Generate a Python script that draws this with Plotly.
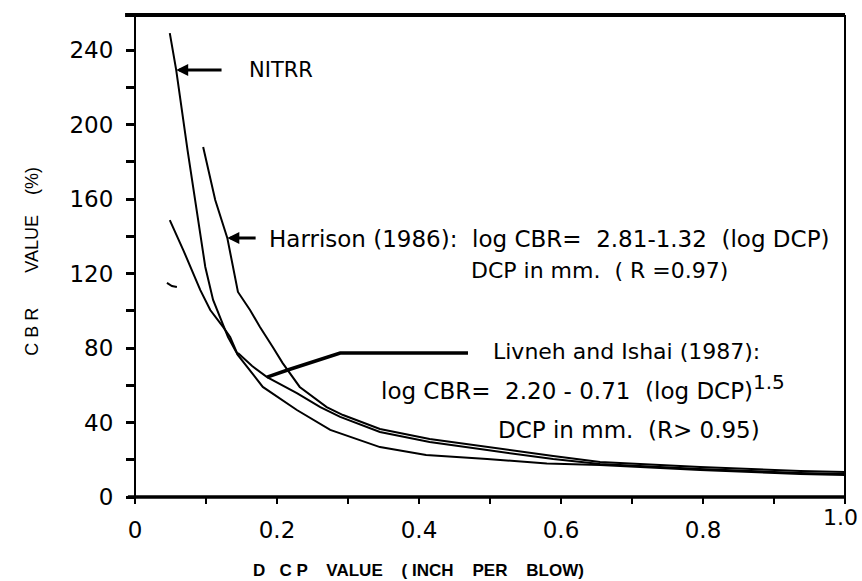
import plotly.graph_objects as go

# ---- data (x: DCP inch/blow, y: CBR %) ----
nitrr_x = [0.049, 0.058, 0.074, 0.085, 0.092, 0.099, 0.110, 0.122, 0.131, 0.145,
           0.180, 0.228, 0.275, 0.345, 0.410, 0.496, 0.580, 0.655, 0.796, 0.937, 1.0]
nitrr_y = [249.1, 229.3, 186.3, 159.5, 141.7, 123.5, 105.8, 95.0, 85.9, 76.2,
           59.1, 46.7, 36.0, 26.8, 22.5, 20.4, 18.0, 17.2, 14.5, 12.3, 11.8]

harrison_x = [0.096, 0.113, 0.130, 0.138, 0.145, 0.162, 0.176, 0.194, 0.208, 0.232,
              0.270, 0.293, 0.345, 0.415, 0.496, 0.589, 0.655, 0.796, 0.937, 1.0]
harrison_y = [187.9, 159.5, 139.1, 123.5, 110.1, 100.4, 91.3, 80.5, 71.9, 59.1,
              48.3, 44.0, 36.5, 31.1, 26.8, 22.0, 18.8, 16.1, 14.0, 13.4]

livneh_x = [0.145, 0.165, 0.186, 0.228, 0.261, 0.289, 0.345, 0.415, 0.496, 0.589,
            0.655, 0.796, 0.937, 1.0]
livneh_y = [77.3, 70.3, 64.4, 55.8, 48.3, 43.0, 34.9, 29.5, 25.2, 20.4,
            17.7, 15.0, 12.9, 12.3]

other_x = [0.049, 0.068, 0.092, 0.106, 0.124, 0.134, 0.145]
other_y = [148.7, 132.6, 111.1, 100.4, 91.3, 85.9, 76.2]

mark_x = [0.045, 0.052, 0.059]
mark_y = [115.0, 113.3, 112.8]

# leader line of the Livneh and Ishai label
livneh_ptr_x = [0.186, 0.215, 0.289, 0.469]
livneh_ptr_y = [64.4, 68.2, 77.3, 77.3]

x_ticks = [0, 0.1, 0.2, 0.3, 0.4, 0.5, 0.6, 0.7, 0.8, 0.9, 1.0]
x_labels = ['0', '', '0.2', '', '0.4', '', '0.6', '', '0.8', '', '']
y_ticks = list(range(0, 241, 20))
y_labels = [str(v) if v % 40 == 0 else '' for v in y_ticks]

FONT = "DejaVu Sans"
fig = go.Figure()

line = dict(color="black", width=2)
for xs, ys in [(nitrr_x, nitrr_y), (harrison_x, harrison_y), (livneh_x, livneh_y),
               (other_x, other_y), (mark_x, mark_y)]:
    fig.add_trace(go.Scatter(x=xs, y=ys, mode="lines", line=line,
                             showlegend=False, hoverinfo="skip", cliponaxis=False))
fig.add_trace(go.Scatter(x=livneh_ptr_x, y=livneh_ptr_y, mode="lines",
                         line=dict(color="black", width=3.5),
                         showlegend=False, hoverinfo="skip"))

def f(size, fam=FONT):
    return dict(family=fam, size=size, color="black")

ann = []
# arrows
ann.append(dict(x=0.058, y=229.3, ax=0.124, ay=229.3, axref="x", ayref="y",
                xref="x", yref="y", text="", showarrow=True, arrowhead=2,
                arrowsize=0.8, arrowwidth=3, arrowcolor="black"))
ann.append(dict(x=0.130, y=139.1, ax=0.172, ay=139.1, axref="x", ayref="y",
                xref="x", yref="y", text="", showarrow=True, arrowhead=2,
                arrowsize=0.8, arrowwidth=3, arrowcolor="black"))

def t(x, y, s, anchor="left", font=None, ref="x"):
    ann.append(dict(x=x, y=y, xref="x" if ref == "x" else "paper",
                    yref="y" if ref == "x" else "paper", text=s, showarrow=False,
                    xanchor=anchor, yanchor="middle", font=font or f(21)))

t(0.158, 229.3, "NITRR")
t(0.186, 138.5, "Harrison (1986):  log CBR=  2.81-1.32  (log DCP)", font=f(23))
t(0.470, 121.5, "DCP in mm.  ( R =0.97)", font=f(22))
t(0.502, 77.9, "Livneh and Ishai (1987):", font=f(22))
t(0.343, 59.1, "log CBR=  2.20 - 0.71  (log DCP)"
  "<sup><span style='font-size:20px'>1.5</span></sup>", font=f(23))
t(0.508, 36.0, "DCP in mm.  (R> 0.95)", font=f(23))
t(1.021, -0.043, "1.0", anchor="right", ref="paper", font=f(22))
t(0.399, -0.152, "<b>D   C P    VALUE    ( INCH    PER    BLOW)</b>", anchor="center",
  font=f(17, "Liberation Sans"), ref="paper")
ann.append(dict(x=-0.162, y=0.49, xref="paper", yref="paper", textangle=-90,
                text="C B R       VALUE    (%)", showarrow=False,
                font=f(18, "Liberation Sans")))

fig.update_layout(
    width=862, height=581, margin=dict(l=135, r=17, t=15, b=84),
    paper_bgcolor="white", plot_bgcolor="white",
    font=f(21),
    annotations=ann,
    xaxis=dict(range=[0, 1], tickvals=x_ticks, ticktext=x_labels, ticks="outside",
               ticklen=6, tickwidth=2, tickcolor="black", showgrid=False,
               zeroline=False, showline=False, ticklabelstandoff=6,
               tickfont=f(23)),
    yaxis=dict(range=[0, 258.8], tickvals=y_ticks, ticktext=y_labels, ticks="outside",
               ticklen=8, tickwidth=2.5, tickcolor="black", showgrid=False,
               zeroline=False, showline=False, ticklabelstandoff=8,
               tickfont=f(23)),
    shapes=[
        dict(type="line", xref="paper", yref="paper", x0=-0.014, x1=1.0, y0=1, y1=1,
             line=dict(color="black", width=4)),
        dict(type="line", xref="paper", yref="paper", x0=-0.01, x1=1.0, y0=0, y1=0,
             line=dict(color="black", width=3.5)),
        dict(type="line", xref="paper", yref="paper", x0=0, x1=0, y0=0, y1=1,
             line=dict(color="black", width=2)),
        dict(type="line", xref="paper", yref="paper", x0=1, x1=1, y0=-0.005, y1=1,
             line=dict(color="black", width=2)),
    ],
)
fig.write_html("out.html")
